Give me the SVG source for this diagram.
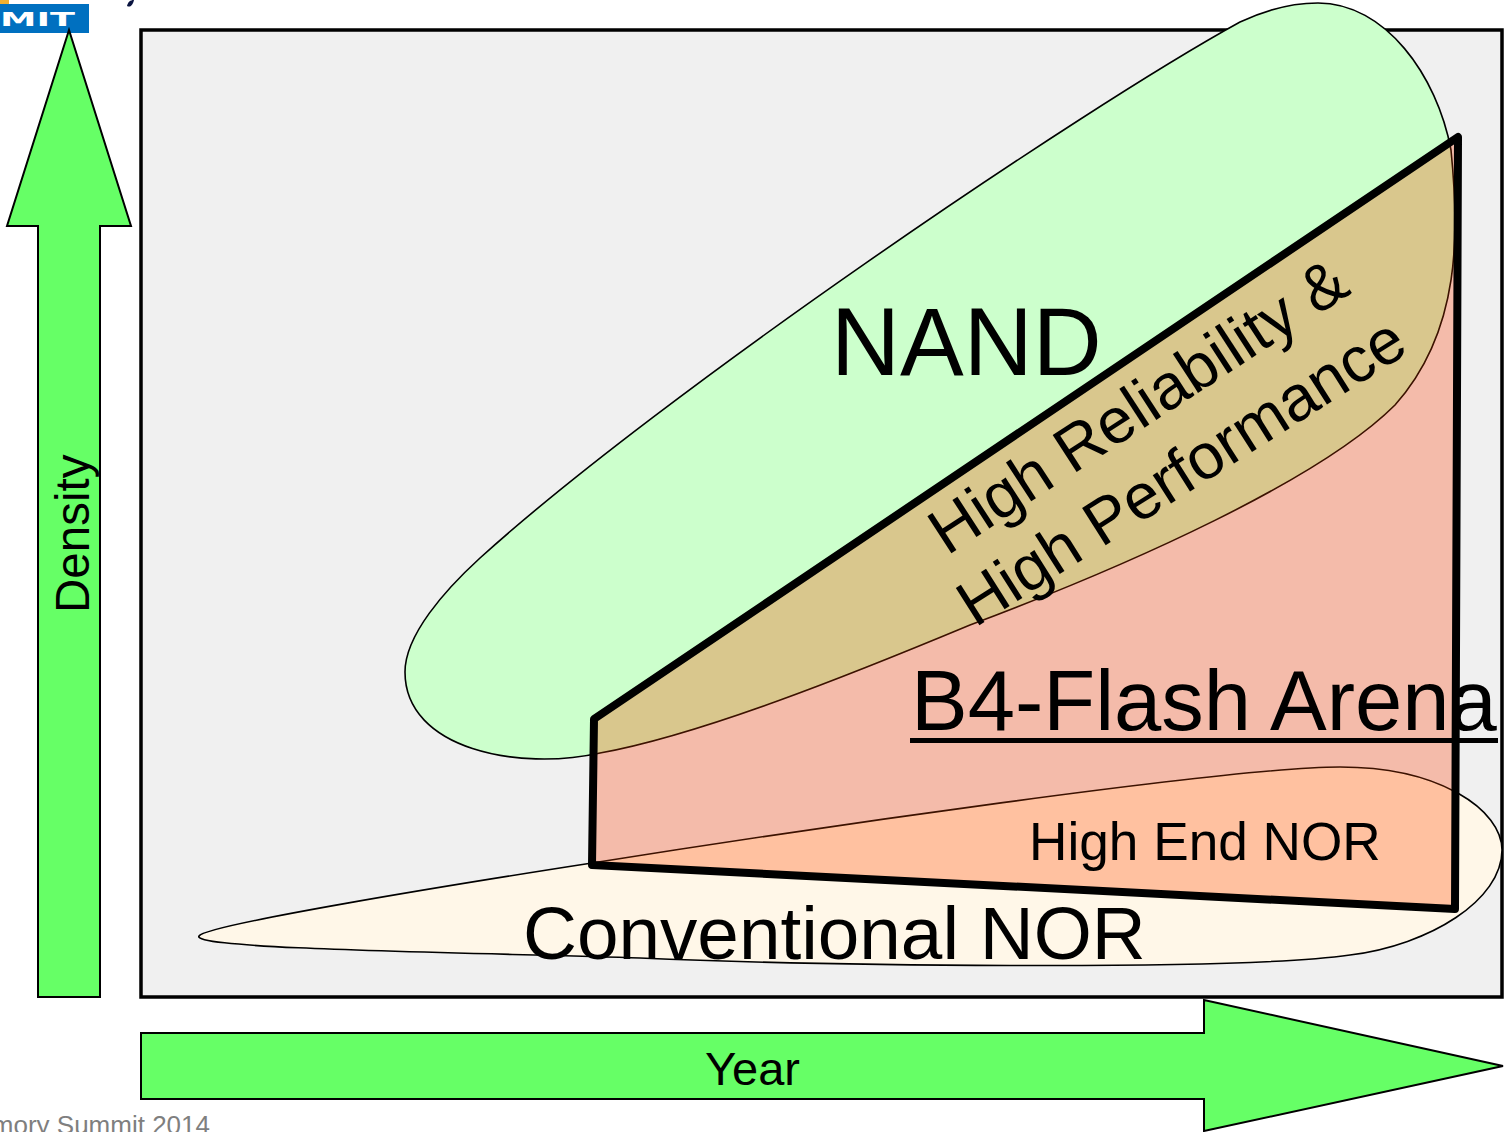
<svg xmlns="http://www.w3.org/2000/svg" width="1505" height="1132" viewBox="0 0 1505 1132">
<style>
text{font-family:"Liberation Sans",Arial,sans-serif;fill:#000}
.arrow{fill:#66ff66;stroke:#000;stroke-width:2}
.blob{stroke:#000;stroke-width:1.6}
.inner{stroke:#3c1200;stroke-width:1.6}
</style>
<defs>
<path id="nandShape" d="M1318 3C1385 3 1437 75 1451 150C1459 230 1462 330 1395 405C1320 480 1130 565 970 625C850 675 700 735 600 753C520 771 405 750 405 672C405 635 445 590 480 558C660 395 1080 110 1240 22C1270 8 1295 3 1318 3Z"/>
<path id="norShape" d="M199 936C205 925 450 885 592 863C800 830 1230 767 1340 767C1440 767 1502 810 1502 850C1502 900 1430 945 1350 955C1230 972 800 965 640 958C500 953 190 950 199 936Z"/>
<path id="arenaOutline" d="M594 719L1458 137L1455 909L592 865Z"/>
<clipPath id="arenaClip"><use href="#arenaOutline"/></clipPath>
</defs>
<rect width="1505" height="1132" fill="#fff"/>
<g id="logo">
<rect x="0" y="4" width="89" height="29" fill="#0070c0"/>
<rect x="0" y="0" width="9" height="4" fill="#f0b030"/>
<path d="M127 6C128 2 130 0 134 0C133 4 131 8 127 6Z" fill="#0a1440"/>
<text x="0" y="26" font-size="20" font-weight="bold" textLength="75" lengthAdjust="spacingAndGlyphs" style="font-family:'DejaVu Sans',sans-serif;fill:#fff">MIT</text>
</g>
<g id="plot"><rect x="141" y="30" width="1361" height="967" fill="#f0f0f0" stroke="#000" stroke-width="3.5"/></g>
<g id="nor"><use href="#norShape" class="blob" fill="#fff7e8"/></g>
<g id="nand"><use href="#nandShape" class="blob" fill="#ccffcc"/></g>
<g id="arena">
<use href="#arenaOutline" fill="#f4bbaa"/>
<g clip-path="url(#arenaClip)">
<use href="#nandShape" class="inner" fill="#d9c78d"/>
<use href="#norShape" class="inner" fill="#ffc1a0"/>
</g>
</g>
<g id="labels">
<text x="831" y="375" font-size="95.5">NAND</text>
<text transform="translate(947 556) rotate(-33)" font-size="64">High Reliability &amp;</text>
<text transform="translate(975 628) rotate(-32.4)" font-size="64">High Performance</text>
<text x="911" y="730" font-size="85">B4-Flash Arena</text>
<rect x="910" y="738" width="588" height="5"/>
<text x="1029" y="860" font-size="53.2">High End NOR</text>
<text x="523" y="959" font-size="74.7">Conventional NOR</text>
</g>
<g id="arena-outline"><use href="#arenaOutline" fill="none" stroke="#000" stroke-width="8" stroke-linejoin="round"/></g>
<g id="density-arrow">
<path class="arrow" d="M69 30L131 226H100V997H38V226H7Z"/>
<text transform="translate(89 613) rotate(-90)" font-size="47.5">Density</text>
</g>
<g id="year-arrow">
<path class="arrow" d="M141 1033H1204V1000L1503 1066L1204 1131V1099H141Z"/>
<text x="705" y="1085" font-size="47">Year</text>
</g>
<g id="footer"><text x="210" y="1134" text-anchor="end" font-size="26" style="fill:#7f7f7f">mory Summit 2014</text></g>
</svg>
